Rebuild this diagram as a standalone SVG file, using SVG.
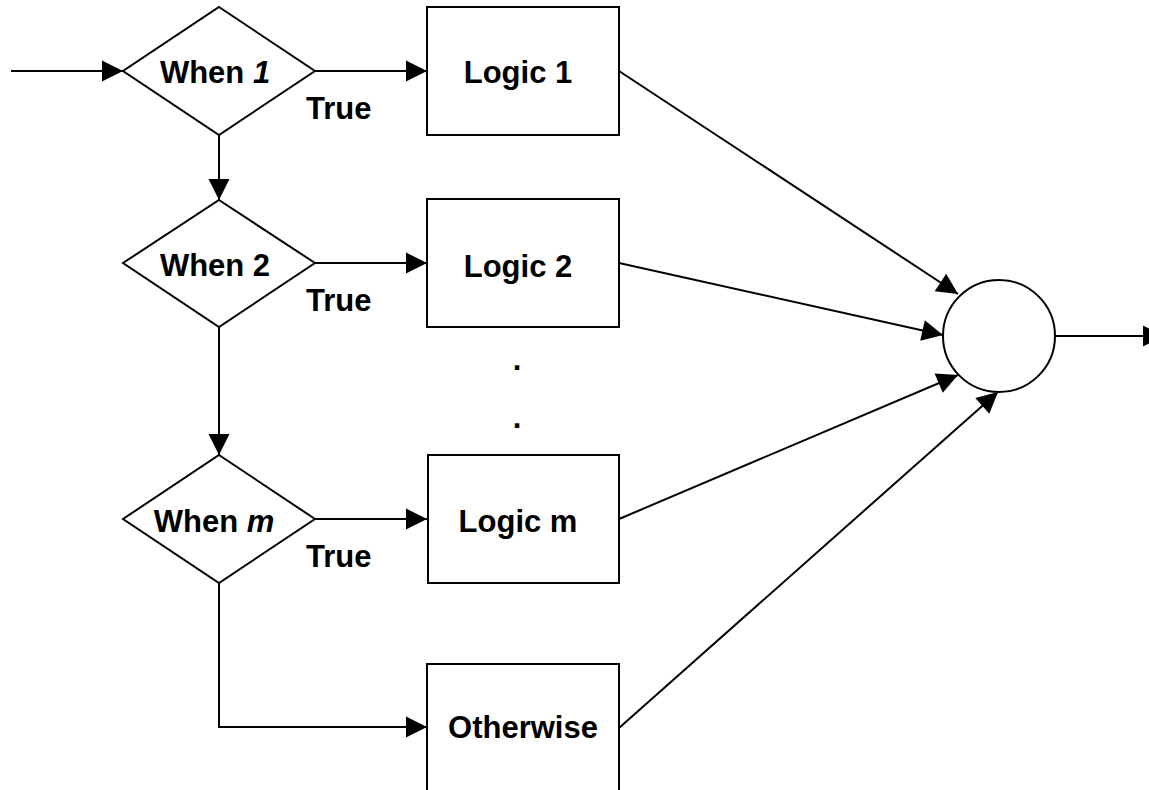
<svg xmlns="http://www.w3.org/2000/svg" width="1149" height="790" viewBox="0 0 1149 790">
<style>
.shape{fill:#fff;stroke:#000;stroke-width:2}
.conn{fill:none;stroke:#000;stroke-width:2}
text{font-family:"Liberation Sans",Arial,sans-serif;font-weight:bold;font-size:31px;fill:#000}
.c{text-anchor:middle}
</style>
<defs>
<marker id="arr" markerUnits="userSpaceOnUse" markerWidth="21" markerHeight="21" refX="21" refY="10.5" orient="auto" overflow="visible">
<path d="M0,0 L21,10.5 L0,21 z" fill="#000"/>
</marker>
</defs>
<rect width="1149" height="790" fill="#fff"/>
<g id="connectors">
<line class="conn" x1="11" y1="71" x2="123" y2="71" marker-end="url(#arr)"/>
<line class="conn" x1="315" y1="71" x2="427" y2="71" marker-end="url(#arr)"/>
<line class="conn" x1="219" y1="135" x2="219" y2="200" marker-end="url(#arr)"/>
<line class="conn" x1="315" y1="263" x2="427" y2="263" marker-end="url(#arr)"/>
<line class="conn" x1="219" y1="327" x2="219" y2="455" marker-end="url(#arr)"/>
<line class="conn" x1="315" y1="519" x2="427" y2="519" marker-end="url(#arr)"/>
<polyline class="conn" points="219,583 219,727 427,727" marker-end="url(#arr)"/>
<line class="conn" x1="619" y1="71" x2="958" y2="294" marker-end="url(#arr)"/>
<line class="conn" x1="619" y1="263" x2="943" y2="335" marker-end="url(#arr)"/>
<line class="conn" x1="619" y1="519" x2="958" y2="375" marker-end="url(#arr)"/>
<line class="conn" x1="619" y1="728" x2="998" y2="392" marker-end="url(#arr)"/>
<line class="conn" x1="1055" y1="336" x2="1164" y2="336" marker-end="url(#arr)"/>
</g>
<g id="when1">
<polygon class="shape" points="219,7 315,71 219,135 123,71"/>
<text x="215" y="83" class="c">When <tspan font-style="italic">1</tspan></text>
</g>
<g id="when2">
<polygon class="shape" points="219,200 315,263 219,327 123,263"/>
<text x="215" y="276" class="c">When 2</text>
</g>
<g id="whenm">
<polygon class="shape" points="219,455 315,519 219,583 123,519"/>
<text x="214" y="532" class="c">When <tspan font-style="italic">m</tspan></text>
</g>
<g id="true-labels">
<text x="306" y="119">True</text>
<text x="306" y="311">True</text>
<text x="306" y="567">True</text>
</g>
<g id="logic1">
<rect class="shape" x="427" y="7" width="192" height="128"/>
<text x="518" y="83" class="c">Logic 1</text>
</g>
<g id="logic2">
<rect class="shape" x="427" y="199" width="192" height="128"/>
<text x="518" y="277" class="c">Logic 2</text>
</g>
<g id="dots">
<text x="517" y="370" class="c">.</text>
<text x="517" y="428" class="c">.</text>
</g>
<g id="logicm">
<rect class="shape" x="428" y="455" width="191" height="128"/>
<text x="518" y="532" class="c">Logic m</text>
</g>
<g id="otherwise">
<rect class="shape" x="427" y="664" width="192" height="140"/>
<text x="523" y="738" class="c">Otherwise</text>
</g>
<g id="merge">
<circle class="shape" cx="999" cy="336" r="56"/>
</g>
</svg>
